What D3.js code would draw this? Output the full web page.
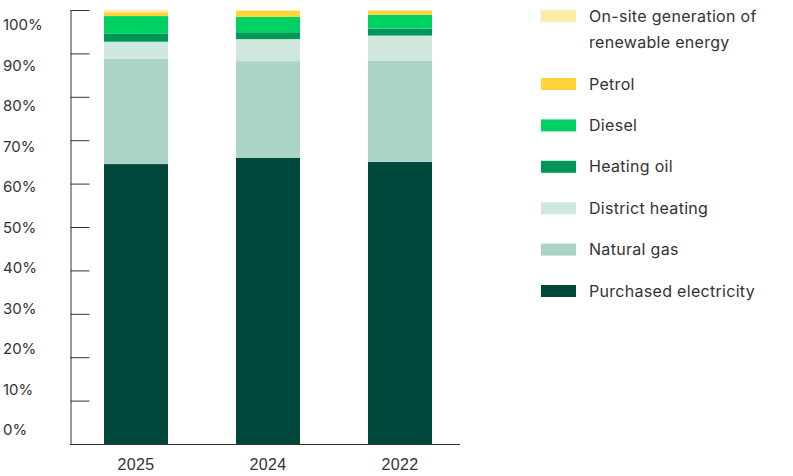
<!DOCTYPE html>
<html>
<head>
<meta charset="utf-8">
<script src="https://cdn.jsdelivr.net/npm/d3@7"></script>
<style>
  html, body { margin: 0; padding: 0; background: #fff; }
  svg { display: block; font-family: Inter, "Open Sans", sans-serif; }
  .lbl { fill: #333; font-size: 15px; }
  .lbl-wide { fill: #333; font-size: 16px; letter-spacing: 0.3px; }
</style>
</head>
<body>
<svg id="chart" width="793" height="476"></svg>
<script>
// Energy mix per reporting year (% of total consumption)
const years = ["2025", "2024", "2022"];
const sources = [
  "Purchased electricity",
  "Natural gas",
  "District heating",
  "Heating oil",
  "Diesel",
  "Petrol",
  "On-site generation of renewable energy"
];
const purchasedElectricity = [64.5, 65.9, 65.0];
const naturalGas          = [24.3, 22.3, 23.3];
const districtHeating     = [3.9, 5.1, 5.8];
const heatingOil          = [1.8, 1.4, 1.6];
const diesel              = [4.1, 3.7, 3.2];
const petrol              = [0.9, 1.4, 0.9];
const onSiteRenewable     = [0.5, 0.2, 0.2];
const yTicks = [0, 10, 20, 30, 40, 50, 60, 70, 80, 90, 100];

const seriesValues = [purchasedElectricity, naturalGas, districtHeating,
                      heatingOil, diesel, petrol, onSiteRenewable];
const colors = ["#00473c", "#abd4c5", "#d0e7dd", "#00965a", "#00d162", "#ffd43b", "#ffeba8"];

const rows = years.map((yr, i) => {
  const r = { year: yr };
  sources.forEach((s, k) => { r[s] = seriesValues[k][i]; });
  return r;
});
const stacked = d3.stack().keys(sources)(rows);

const svg = d3.select("#chart");

const x = d3.scaleBand().domain(years).range([70, 466])
  .paddingInner(0.515).paddingOuter(0.2575);
const y = d3.scaleLinear().domain([0, 100]).range([444, 10]);
// tick labels sit on their own evenly spaced scale
const yLabel = d3.scaleLinear().domain([0, 100]).range([430, 25]);
const color = d3.scaleOrdinal().domain(sources).range(colors);

// stacked bars
svg.append("g").selectAll("g").data(stacked).join("g")
  .attr("fill", d => color(d.key))
  .selectAll("rect").data(d => d).join("rect")
  .attr("x", d => x(d.data.year))
  .attr("width", x.bandwidth())
  .attr("y", d => y(d[1]))
  .attr("height", d => y(d[0]) - y(d[1]));

// y axis: line with inward ticks
const yAxis = svg.append("g")
  .attr("transform", "translate(70.5,0)")
  .call(d3.axisRight(y).tickValues(yTicks).tickSize(19).tickSizeOuter(0).tickFormat(""));
yAxis.select(".domain").attr("stroke", "#333");
yAxis.selectAll(".tick line").attr("stroke", "#333");

svg.append("g").selectAll("text").data(yTicks).join("text")
  .attr("class", "lbl")
  .attr("x", 3)
  .attr("y", d => yLabel(d))
  .attr("dy", "0.35em")
  .text(d => d + "%");

// x axis baseline and year labels
const xAxis = svg.append("g")
  .attr("transform", "translate(0,444.5)")
  .call(d3.axisBottom(x).tickSize(0).tickPadding(14));
xAxis.select(".domain").attr("d", "M70,0H460").attr("stroke", "#333");
xAxis.selectAll(".tick text").attr("class", "lbl-wide").attr("font-family", null)
  .attr("font-size", null).attr("fill", null);

// legend, top entry first
const legendItems = sources.slice().reverse();
const legendY = d3.scalePoint().domain(legendItems.slice(1)).range([84, 291]);
const rowY = k => k === legendItems[0] ? 16 : legendY(k);

const lg = svg.append("g");
const item = lg.selectAll("g").data(legendItems).join("g")
  .attr("transform", d => `translate(541,${rowY(d)})`);
item.append("rect")
  .attr("x", 0).attr("y", -6).attr("width", 35).attr("height", 12)
  .attr("fill", d => color(d));
item.append("text")
  .attr("class", "lbl-wide")
  .attr("x", 48)
  .attr("dy", "0.35em")
  .each(function(d) {
    const t = d3.select(this);
    if (d === legendItems[0]) {
      t.append("tspan").attr("x", 48).text("On-site generation of");
      t.append("tspan").attr("x", 48).attr("dy", 26).text("renewable energy");
    } else {
      t.text(d);
    }
  });
</script>
</body>
</html>
